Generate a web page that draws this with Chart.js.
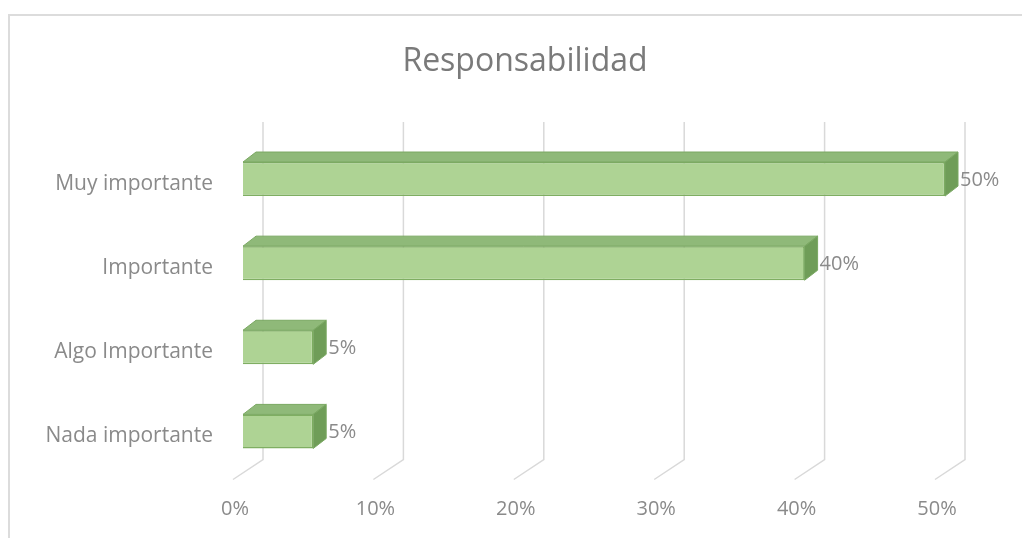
<!DOCTYPE html>
<html lang="es">
<head>
  <meta charset="UTF-8">
  <title>Responsabilidad</title>
  <script src="https://cdn.jsdelivr.net/npm/chart.js@4.4.1/dist/chart.umd.min.js"></script>
  <style>
    body { margin: 0; background: #fff; }
    #frame { position: absolute; left: 8px; top: 14px; width: 1030px; height: 540px; border: 2px solid #dcdcdc; box-sizing: border-box; }
    #wrap { position: absolute; left: 0; top: 0; width: 1022px; height: 538px; }
  </style>
</head>
<body>
<div id="frame"></div>
<div id="wrap">
  <canvas id="myChart" width="1022" height="538"></canvas>
</div>

<script>
  const categories = ["Muy importante", "Importante", "Algo Importante", "Nada importante"];
  const values = [0.50, 0.40, 0.05, 0.05];
  const tickValues = [0, 0.1, 0.2, 0.3, 0.4, 0.5];
  const chartTitle = "Responsabilidad";

  const depthX = 13;
  const depthY = -10;
  const gray = "#8a8a8a";

  // back wall grid + floor lines, like the excel 3d chart
  const wallPlugin = {
    id: "wall",
    beforeDatasetsDraw(chart) {
      const ctx = chart.ctx;
      const xs = chart.scales.x;
      const area = chart.chartArea;
      ctx.save();
      ctx.strokeStyle = "#d9d9d9";
      ctx.lineWidth = 1.5;
      tickValues.forEach(v => {
        const x = xs.getPixelForValue(v) + 20;
        ctx.beginPath();
        ctx.moveTo(x, area.top - 15);
        ctx.lineTo(x, area.bottom - 14);
        ctx.lineTo(x - 30, area.bottom + 6);
        ctx.stroke();
      });
      ctx.restore();
    },
    afterDatasetsDraw(chart) {
      const ctx = chart.ctx;
      const meta = chart.getDatasetMeta(0);
      ctx.save();
      meta.data.forEach((bar, i) => {
        const p = bar.getProps(["x", "y", "base", "height"], true);
        const left = p.base, right = p.x;
        const top = p.y - p.height / 2, bottom = p.y + p.height / 2;
        // top face
        ctx.fillStyle = "#8fb979";
        ctx.strokeStyle = "#7aa862";
        ctx.lineWidth = 1;
        ctx.beginPath();
        ctx.moveTo(left, top);
        ctx.lineTo(left + depthX, top + depthY);
        ctx.lineTo(right + depthX, top + depthY);
        ctx.lineTo(right, top);
        ctx.closePath();
        ctx.fill();
        ctx.stroke();
        // side face
        ctx.fillStyle = "#6f9d58";
        ctx.beginPath();
        ctx.moveTo(right, top);
        ctx.lineTo(right + depthX, top + depthY);
        ctx.lineTo(right + depthX, bottom + depthY);
        ctx.lineTo(right, bottom);
        ctx.closePath();
        ctx.fill();
        ctx.stroke();
        // value label
        ctx.fillStyle = gray;
        ctx.font = "20px 'Open Sans'";
        ctx.textAlign = "left";
        ctx.textBaseline = "middle";
        ctx.fillText(Math.round(values[i] * 100) + "%", right + depthX + 2, p.y + 1);
      });
      ctx.restore();
    },
    afterDraw(chart) {
      const ctx = chart.ctx;
      ctx.save();
      ctx.fillStyle = "#7a7a7a";
      ctx.font = "32px 'Open Sans'";
      ctx.textAlign = "center";
      ctx.textBaseline = "middle";
      ctx.fillText(chartTitle, 525, 62);
      ctx.restore();
    }
  };

  const ctx = document.getElementById("myChart").getContext("2d");
  const chart = new Chart(ctx, {
    type: "bar",
    data: {
      labels: categories,
      datasets: [{
        data: values,
        backgroundColor: "#aed394",
        borderColor: "#7fae62",
        borderWidth: 1.5,
        categoryPercentage: 1,
        barPercentage: 0.405
      }]
    },
    options: {
      indexAxis: "y",
      responsive: false,
      animation: false,
      layout: { padding: { left: 0, right: 77, top: 137, bottom: 0 } },
      plugins: {
        legend: { display: false },
        tooltip: { enabled: false },
        title: { display: false }
      },
      scales: {
        x: {
          min: 0,
          max: 0.5,
          grid: { display: false, drawTicks: false },
          border: { display: false },
          afterFit: s => { s.height = 64.5; },
          afterBuildTicks: s => { s.ticks = tickValues.map(v => ({ value: v })); },
          ticks: {
            color: gray,
            padding: 24,
            labelOffset: -8,
            font: { family: "'Open Sans'", size: 20 },
            callback: v => Math.round(v * 100) + "%"
          }
        },
        y: {
          grid: { display: false, drawTicks: false },
          border: { display: false },
          afterFit: s => { s.width = 243; },
          ticks: {
            color: gray,
            padding: 30,
            labelOffset: 5,
            font: { family: "'Open Sans'", size: 21 }
          }
        }
      }
    },
    plugins: [wallPlugin]
  });
</script>
</body>
</html>
